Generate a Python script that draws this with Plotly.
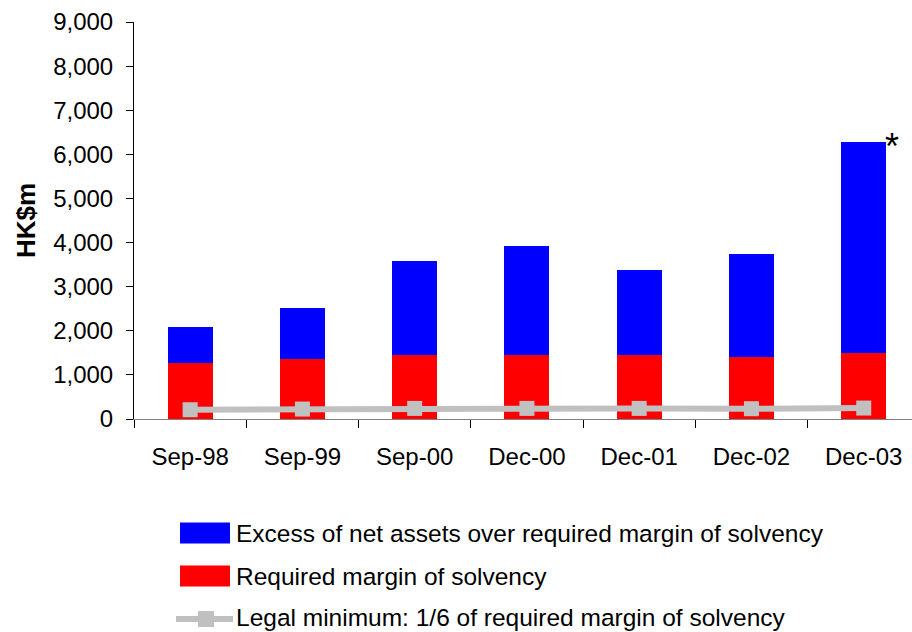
import plotly.graph_objects as go

# Solvency position by reporting date (HK$m)
periods = ["Sep-98", "Sep-99", "Sep-00", "Dec-00", "Dec-01", "Dec-02", "Dec-03"]
required_margin = [1262, 1352, 1443, 1443, 1443, 1398, 1489]
excess_net_assets = [832, 1174, 2149, 2489, 1945, 2353, 4781]
legal_minimum = [210, 225, 240, 240, 240, 233, 248]

legend_labels = [
    "Excess of net assets over required margin of solvency",
    "Required margin of solvency",
    "Legal minimum: 1/6 of required margin of solvency",
]

BLUE = "#0000FF"
RED = "#FF0000"
GREY = "#C0C0C0"
FONT = "Liberation Sans, Arial, sans-serif"

W, H = 912, 632
L, R, T, B = 134, 0, 22, 213
PW, PH = W - L - R, H - T - B


def px(x):
    return (x - L) / PW


def py(y):
    return (H - B - y) / PH


fig = go.Figure()
fig.add_trace(go.Bar(x=periods, y=required_margin, marker_color=RED,
                     marker_line_width=0, name=legend_labels[1]))
fig.add_trace(go.Bar(x=periods, y=excess_net_assets, marker_color=BLUE,
                     marker_line_width=0, name=legend_labels[0]))
fig.add_trace(go.Scatter(x=periods, y=legal_minimum, mode="lines+markers",
                         line=dict(color=GREY, width=6),
                         marker=dict(symbol="square", size=15, color=GREY),
                         name=legend_labels[2]))

totals = [a + b for a, b in zip(required_margin, excess_net_assets)]

shapes = []
annotations = []

# footnote marker on the latest bar
annotations.append(dict(x=periods[-1], y=totals[-1], xref="x", yref="y",
                        text="*", showarrow=False, xanchor="left", yanchor="middle",
                        xshift=19, yshift=-4, font=dict(family=FONT, size=36, color="black")))

# legend block below the chart
rows = [533, 576, 617]
for i, (label, yc) in enumerate(zip(legend_labels, rows)):
    if i < 2:
        shapes.append(dict(type="rect", xref="paper", yref="paper",
                           x0=px(180), x1=px(230), y0=py(yc + 10.5), y1=py(yc - 10.5),
                           fillcolor=BLUE if i == 0 else RED, line_width=0))
    else:
        shapes.append(dict(type="line", xref="paper", yref="paper",
                           x0=px(176), x1=px(233), y0=py(yc + 2), y1=py(yc + 2),
                           line=dict(color=GREY, width=6)))
        shapes.append(dict(type="rect", xref="paper", yref="paper",
                           x0=px(198), x1=px(214), y0=py(yc + 10), y1=py(yc - 6),
                           fillcolor=GREY, line_width=0))
    annotations.append(dict(x=px(234), y=py(yc), xref="paper", yref="paper",
                            text=label, showarrow=False, xanchor="left", yanchor="middle",
                            font=dict(family=FONT, size=24.5, color="black")))

fig.update_layout(
    width=W, height=H,
    margin=dict(l=L, r=R, t=T, b=B),
    barmode="stack",
    bargap=0.6,
    showlegend=False,
    plot_bgcolor="white",
    paper_bgcolor="white",
    font=dict(family=FONT, color="black"),
    shapes=shapes,
    annotations=annotations,
)

fig.update_xaxes(
    range=[-0.5, 6.43],
    showline=True, linecolor="#808080", linewidth=1,
    ticks="outside", tickson="boundaries", ticklen=8, tickcolor="black",
    tickfont=dict(family=FONT, size=24, color="black"),
    ticklabelstandoff=16,
    showgrid=False, zeroline=False,
)

fig.update_yaxes(
    range=[0, 9000], dtick=1000, tickformat=",d",
    showline=True, linecolor="black", linewidth=1,
    ticks="outside", ticklen=7, tickcolor="black",
    tickfont=dict(family=FONT, size=24, color="black"),
    ticklabelstandoff=8,
    showgrid=False, zeroline=False,
    title=dict(text="<b>HK$m</b>", font=dict(family=FONT, size=26, color="black"), standoff=10),
)

fig.write_html("out.html")
